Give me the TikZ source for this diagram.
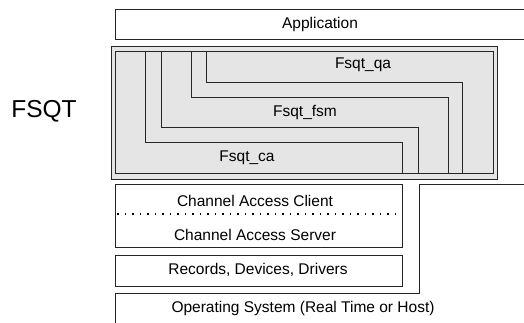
\documentclass[tikz,border=0pt]{standalone}
\usepackage{fontspec}
\setmainfont{Liberation Sans}
\tikzset{
  lbl/.style={font=\fontsize{15.5}{18}\selectfont, inner sep=0pt},
  edge/.style={draw=black!85, line width=1pt},
}
\begin{document}
\begin{tikzpicture}[x=1pt,y=-1pt]
	\useasboundingbox (0,0) rectangle (524,322);
	% application layer
	\draw[edge] (526,9) -- (115,9) -- (115,39) -- (526,39);
	\node[lbl] (app) at (320,24) {Application};
	% fsqt frame
	\draw[edge, fill=black!10] (111,46) rectangle (497,179);
	\draw[edge] (115,51) rectangle (493,173);
	\draw[edge] (145,51) -- (145,142) -- (402,142) -- (402,173);
	\draw[edge] (161,51) -- (161,127) -- (418,127) -- (418,173);
	\draw[edge] (191,51) -- (191,97) -- (448,97) -- (448,173);
	\draw[edge] (206,51) -- (206,82) -- (462,82) -- (462,173);
	\node[lbl] (qa) at (363,65) {Fsqt\_qa};
	\node[lbl] (fsm) at (305,112) {Fsqt\_fsm};
	\node[lbl] (ca) at (247,158) {Fsqt\_ca};
	\node[lbl, font=\fontsize{24.5}{28}\selectfont] (fsqt) at (44,111) {FSQT};
	% channel access
	\draw[edge] (115,184) rectangle (402,247);
	\draw[line width=1.6pt, dash pattern=on 1.6pt off 5.9pt] (117,214) -- (398,214);
	\node[lbl] (cacli) at (255,201) {Channel Access Client};
	\node[lbl] (caserv) at (255,235) {Channel Access Server};
	% records
	\draw[edge] (115,255) rectangle (402,286);
	\node[lbl] (rdd) at (258,270) {Records, Devices, Drivers};
	% operating system
	\draw[edge] (115,325) -- (115,293) -- (419,293) -- (419,184) -- (526,184);
	\node[lbl] (os) at (303,308) {Operating System (Real Time or Host)};
\end{tikzpicture}
\end{document}
